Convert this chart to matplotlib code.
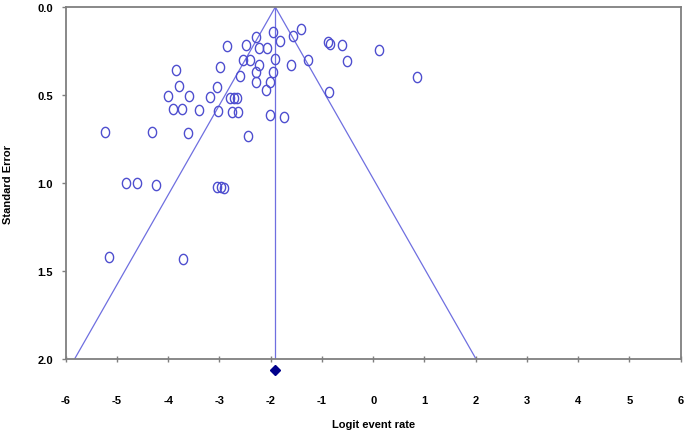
import matplotlib
matplotlib.use("Agg")
import matplotlib.pyplot as plt
import numpy as np
from matplotlib.path import Path

# Data
logit_rate = [-5.23, -4.83, -4.61, -4.24, -4.31, -3.85, -3.78, -4.01, -3.60, -3.91,
              -3.73, -3.61, -3.40, -3.19, -3.04, -3.02, -2.99, -2.85, -3.04, -2.97,
              -2.91, -2.80, -2.72, -2.65, -2.76, -2.64, -2.45, -2.59, -2.54, -2.40,
              -2.48, -2.28, -2.22, -2.07, -2.22, -2.28, -2.28, -2.09, -2.01, -1.96,
              -1.91, -1.96, -1.82, -2.01, -1.74, -1.60, -1.56, -1.40, -1.27, -0.87,
              -0.88, -0.84, -0.60, -0.51, 0.12, 0.85, -5.15, -3.72]
std_error = [0.708, 1.00, 1.00, 1.008, 0.708, 0.356, 0.45, 0.504, 0.504, 0.58,
             0.58, 0.716, 0.587, 0.51, 0.456, 0.59, 0.339, 0.22, 1.021, 1.021,
             1.027, 0.517, 0.517, 0.517, 0.595, 0.595, 0.735, 0.39, 0.30, 0.30,
             0.218, 0.172, 0.231, 0.231, 0.328, 0.371, 0.426, 0.47, 0.428, 0.371,
             0.295, 0.14, 0.195, 0.614, 0.623, 0.33, 0.163, 0.125, 0.30, 0.485,
             0.20, 0.21, 0.216, 0.305, 0.243, 0.398, 1.417, 1.43]
pooled_logit = -1.91
max_se = 2.0
x_ticks = [-6, -5, -4, -3, -2, -1, 0, 1, 2, 3, 4, 5, 6]
y_ticks = [0.0, 0.5, 1.0, 1.5, 2.0]

plt.rcParams['font.family'] = ['Liberation Sans', 'DejaVu Sans']

fig = plt.figure(figsize=(6.85, 4.31), dpi=100)
ax = fig.add_axes([0.0959, 0.164, 0.8978, 0.8174])

line_color = '#6f6fe0'
# funnel lines
ax.plot([pooled_logit - 1.96 * max_se, pooled_logit, pooled_logit + 1.96 * max_se],
        [max_se, 0, max_se], color=line_color, lw=0.9, zorder=2)
ax.plot([pooled_logit, pooled_logit], [0, max_se], color=line_color, lw=0.9, zorder=2)

# elliptical hollow marker
t = np.linspace(0, 2 * np.pi, 60)
ell = Path(np.column_stack([0.8 * np.cos(t), np.sin(t)]))
ax.plot(logit_rate, std_error, linestyle='none', marker=ell, markersize=7.4,
        markerfacecolor='none', markeredgecolor='#4f4fcf', markeredgewidth=1.0, zorder=3)

# pooled estimate diamond below axis
ax.plot([pooled_logit], [2.063], marker='D', markersize=5, color='#00008b',
        clip_on=False, zorder=4)

ax.set_xlim(-6, 6)
ax.set_ylim(2.0, 0.0)
ax.set_xticks(x_ticks)
ax.set_xticklabels([str(v) for v in x_ticks])
ax.set_yticks(y_ticks)
ax.set_yticklabels([f"{v:.1f}" for v in y_ticks])

for s in ax.spines.values():
    s.set_color('#7f7f7f')
    s.set_linewidth(1.3)

ax.tick_params(axis='x', direction='inout', length=4, width=1, color='#7f7f7f',
               pad=24, labelsize=8)
ax.tick_params(axis='y', direction='out', length=3, width=1, color='#7f7f7f',
               pad=6, labelsize=8)
for lab in ax.get_xticklabels() + ax.get_yticklabels():
    lab.set_fontweight('bold')

ax.set_xlabel('Logit event rate', fontsize=8, fontweight='bold', labelpad=10)
ax.set_ylabel('Standard Error', fontsize=8, fontweight='bold', labelpad=18)

fig.savefig('out.png', dpi=100)
